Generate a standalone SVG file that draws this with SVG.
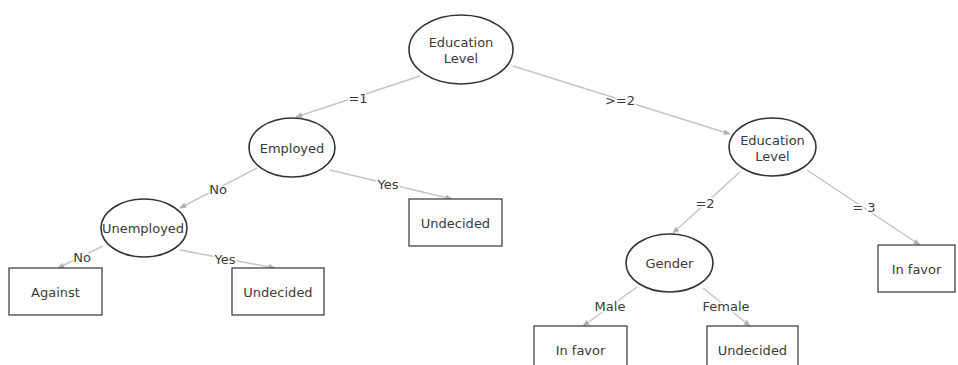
<svg xmlns="http://www.w3.org/2000/svg" width="958" height="365" viewBox="0 0 958 365">
<defs>
<marker id="arr" viewBox="0 0 10 10" refX="9" refY="5" markerWidth="7" markerHeight="7" orient="auto" markerUnits="userSpaceOnUse">
<path d="M0,1 L10,5 L0,9 z" fill="#b0b0b0"/>
</marker>
<style>
.t{font-family:"DejaVu Sans",Verdana,sans-serif;font-size:13px;fill:#3a3a3a;text-anchor:middle;dominant-baseline:central}
.el{fill:#fff;stroke:#333;stroke-width:1.6}
.bx{fill:#fff;stroke:#333;stroke-width:1.2}
.e{stroke:#c4c4c4;stroke-width:1.5;fill:none;marker-end:url(#arr)}
.l{font-family:"DejaVu Sans",Verdana,sans-serif;font-size:13px;fill:#3a3a3a;text-anchor:middle;dominant-baseline:central;stroke:#fff;stroke-width:3;paint-order:stroke}
</style>
</defs>
<rect width="958" height="365" fill="#fff"/>
<g id="connectors">
<line class="e" x1="420" y1="76" x2="296" y2="117"/>
<line class="e" x1="513" y1="66" x2="730" y2="134"/>
<line class="e" x1="257" y1="168" x2="180" y2="208"/>
<line class="e" x1="330" y1="170" x2="452" y2="199"/>
<line class="e" x1="103" y1="246" x2="58" y2="268"/>
<line class="e" x1="180" y1="250" x2="275" y2="268"/>
<line class="e" x1="740" y1="172" x2="673" y2="233"/>
<line class="e" x1="807" y1="170" x2="920" y2="245"/>
<line class="e" x1="637" y1="287" x2="583" y2="326"/>
<line class="e" x1="703" y1="288" x2="750" y2="326"/>
<text class="l" x="358" y="98">=1</text>
<text class="l" x="620" y="100">&gt;=2</text>
<text class="l" x="218" y="189">No</text>
<text class="l" x="388" y="184">Yes</text>
<text class="l" x="82" y="257">No</text>
<text class="l" x="225" y="259">Yes</text>
<text class="l" x="705" y="203">=2</text>
<text class="l" x="864" y="207">= 3</text>
<text class="l" x="610" y="306">Male</text>
<text class="l" x="726" y="306">Female</text>
</g>
<g id="root">
<ellipse class="el" cx="461" cy="49.5" rx="52" ry="34.5"/>
<text class="t" x="461" y="42">Education</text>
<text class="t" x="461" y="58">Level</text>
</g>
<g id="employed">
<ellipse class="el" cx="292" cy="147.5" rx="43" ry="29.5"/>
<text class="t" x="292" y="148">Employed</text>
</g>
<g id="unemployed">
<ellipse class="el" cx="144" cy="228" rx="43" ry="29"/>
<text class="t" x="143" y="228">Unemployed</text>
</g>
<g id="undecided1">
<rect class="bx" x="409" y="199" width="93" height="47"/>
<text class="t" x="455.5" y="223">Undecided</text>
</g>
<g id="against">
<rect class="bx" x="9" y="268" width="93" height="47"/>
<text class="t" x="55.5" y="292">Against</text>
</g>
<g id="undecided2">
<rect class="bx" x="232" y="268" width="92" height="47"/>
<text class="t" x="278" y="292">Undecided</text>
</g>
<g id="education2">
<ellipse class="el" cx="772.5" cy="147" rx="43.5" ry="29"/>
<text class="t" x="772.5" y="140">Education</text>
<text class="t" x="772.5" y="156">Level</text>
</g>
<g id="gender">
<ellipse class="el" cx="669.5" cy="263" rx="43.5" ry="29"/>
<text class="t" x="669.5" y="263">Gender</text>
</g>
<g id="infavor1">
<rect class="bx" x="878" y="245" width="77" height="47"/>
<text class="t" x="916.5" y="269">In favor</text>
</g>
<g id="infavor2">
<rect class="bx" x="534" y="326" width="93" height="47"/>
<text class="t" x="580.5" y="350">In favor</text>
</g>
<g id="undecided3">
<rect class="bx" x="707" y="326" width="91" height="47"/>
<text class="t" x="752.5" y="350">Undecided</text>
</g>
</svg>
